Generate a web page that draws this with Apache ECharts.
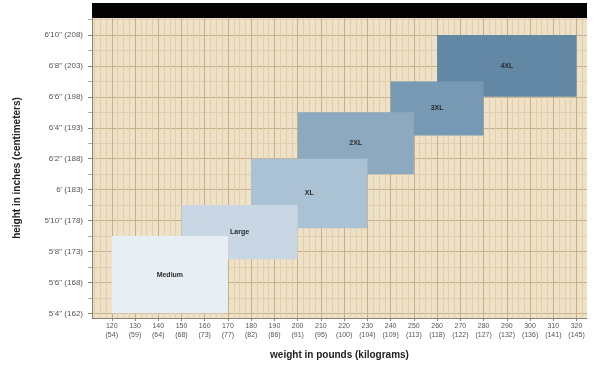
<!DOCTYPE html>
<html>
<head>
<meta charset="utf-8">
<script src="https://cdn.jsdelivr.net/npm/echarts@6/dist/echarts.min.js"></script>
<style>
  html, body { margin: 0; background: #fff; }
  #chart { width: 596px; height: 366px; }
</style>
</head>
<body>
<div id="chart"></div>
<script>
// tick values + labels
const heightTicks = [64, 66, 68, 70, 72, 74, 76, 78, 80, 82];
const heightLabels = ['5\'4" (162)', '5\'6" (168)', '5\'8" (173)', '5\'10" (178)', '6\' (183)',
  '6\'2" (188)', '6\'4" (193)', '6\'6" (198)', '6\'8" (203)', '6\'10" (208)'];
const heightMinor = [65, 67, 69, 71, 73, 75, 77, 79, 81, 83];
const weightTicks = [120, 130, 140, 150, 160, 170, 180, 190, 200, 210, 220,
  230, 240, 250, 260, 270, 280, 290, 300, 310, 320];
const weightKg = [54, 59, 64, 68, 73, 77, 82, 86, 91, 95, 100,
  104, 109, 113, 118, 122, 127, 132, 136, 141, 145];

// size boxes
const sizeNames = ['Medium', 'Large', 'XL', '2XL', '3XL', '4XL'];
const weightFrom = [120, 150, 180, 200, 240, 260];
const weightTo = [170, 200, 230, 250, 280, 320];
const heightFrom = [64, 67.5, 69.5, 73, 75.5, 78];
const heightTo = [69, 71, 74, 77, 79, 82];

const boxColors = ['#e7eef4', '#c8d7e3', '#abc2d5', '#8da9bf', '#7899b3', '#6288a6'];

// minor vertical lines every 2.5 lb
let weightMinor = [];
for (let w = 112.5; w < 325; w += 2.5) {
  if (w % 10 !== 0) weightMinor.push(w);
}

const xMin = 111.5, xMax = 324.5;
const yMin = 63.7, yMax = 83.1;

// smaller sizes on top -> draw from biggest
let boxData = [];
for (let i = sizeNames.length - 1; i >= 0; i--) {
  boxData.push({
    value: [weightFrom[i], weightTo[i], heightFrom[i], heightTo[i]],
    name: sizeNames[i],
    itemStyle: {color: boxColors[i]}
  });
}

let mychart = echarts.init(document.getElementById('chart'));
let option = {
  animation: false,
  graphic: [{
    type: 'rect',
    left: 92,
    top: 3,
    shape: {width: 495, height: 15},
    style: {fill: '#050203'}
  }],
  grid: {
    left: 92,
    right: 9,
    top: 18,
    bottom: 48,
    show: true,
    backgroundColor: '#eee1c6',
    borderWidth: 0
  },
  xAxis: [
    {
      type: 'value',
      min: xMin,
      max: xMax,
      name: 'weight in pounds (kilograms)',
      nameLocation: 'middle',
      nameGap: 32,
      nameTextStyle: {fontSize: 10, fontWeight: 'bold', color: '#222'},
      axisLine: {lineStyle: {color: '#8a8373'}},
      axisTick: {customValues: weightTicks, length: 3, lineStyle: {color: '#8a8373'}},
      axisLabel: {
        customValues: weightTicks,
        fontSize: 7,
        color: '#555',
        lineHeight: 9,
        margin: 4,
        formatter: function (v) {
          let i = weightTicks.indexOf(v);
          return v + '\n(' + weightKg[i] + ')';
        }
      },
      splitLine: {show: true, lineStyle: {color: '#c6b08a', width: 1}}
    },
    {
      type: 'value',
      min: xMin,
      max: xMax,
      position: 'bottom',
      axisLine: {show: false},
      axisTick: {show: false, customValues: weightMinor},
      axisLabel: {show: false, customValues: weightMinor},
      splitLine: {show: true, lineStyle: {color: '#e0cfae', width: 1}}
    }
  ],
  yAxis: [
    {
      type: 'value',
      min: yMin,
      max: yMax,
      name: 'height in inches (centimeters)',
      nameLocation: 'middle',
      nameGap: 70,
      nameRotate: 90,
      nameTextStyle: {fontSize: 10, fontWeight: 'bold', color: '#222'},
      axisLine: {show: true, lineStyle: {color: '#8a8373'}},
      axisTick: {show: true, customValues: heightTicks, length: 4, lineStyle: {color: '#8a8373'}},
      axisLabel: {
        customValues: heightTicks,
        fontSize: 8,
        color: '#555',
        margin: 9,
        formatter: function (v) {
          return heightLabels[heightTicks.indexOf(v)];
        }
      },
      splitLine: {show: true, lineStyle: {color: '#c6b08a', width: 1}}
    },
    {
      type: 'value',
      min: yMin,
      max: yMax,
      position: 'left',
      axisLine: {show: false},
      axisTick: {show: true, customValues: heightMinor, length: 4, lineStyle: {color: '#b5ad9c'}},
      axisLabel: {show: false, customValues: heightMinor},
      splitLine: {show: true, lineStyle: {color: '#e0cfae', width: 1}}
    }
  ],
  series: [
    {
      type: 'custom',
      name: 'sizes',
      xAxisIndex: 0,
      yAxisIndex: 0,
      encode: {x: [0, 1], y: [2, 3]},
      data: boxData,
      renderItem: function (params, api) {
        let p0 = api.coord([api.value(0), api.value(3)]);
        let p1 = api.coord([api.value(1), api.value(2)]);
        let item = boxData[params.dataIndex];
        return {
          type: 'rect',
          shape: {x: p0[0], y: p0[1], width: p1[0] - p0[0], height: p1[1] - p0[1]},
          style: {fill: item.itemStyle.color},
          textContent: {
            style: {text: item.name, fontSize: 7, fontWeight: 'bold', fill: '#2a2a2a'}
          },
          textConfig: {position: 'inside'}
        };
      }
    }
  ]
};
mychart.setOption(option);
window.onresize = function () {
  mychart.resize();
};
</script>
</body>
</html>
